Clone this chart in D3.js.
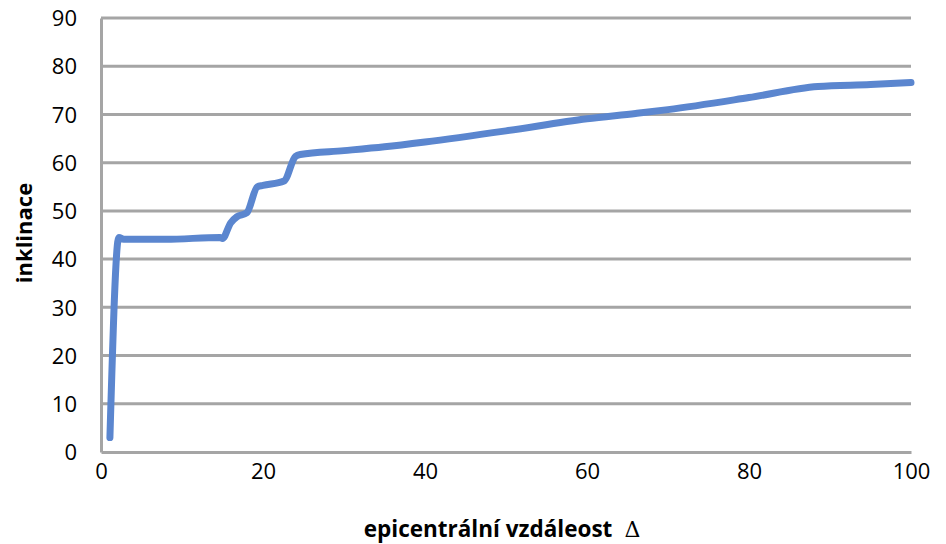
<!DOCTYPE html>
<html>
<head>
<meta charset="utf-8">
<script src="https://cdn.jsdelivr.net/npm/d3@7"></script>
<style>
  html, body { margin: 0; padding: 0; background: #fff; }
  svg { display: block; }
  text { font-family: "Open Sans", "Noto Sans", sans-serif; fill: #000; }
</style>
</head>
<body>
<svg id="chart" width="946" height="544"></svg>
<script>
// ---- data ----
const distance = [1.1, 2.2, 2.8, 8, 14.7, 15.0, 16.0, 16.8, 18.0, 19.3, 20.0, 22.6, 24.0, 24.6, 30, 35, 40, 50, 60, 66, 70, 80, 88.5, 95, 100];
const inclination = [3, 44.5, 44.1, 44.1, 44.5, 44.3, 47.5, 48.8, 49.6, 55.0, 55.3, 56.2, 61.3, 61.7, 62.5, 63.3, 64.3, 66.6, 69.1, 70.2, 71.0, 73.5, 75.8, 76.2, 76.6];
const xTicks = [0, 20, 40, 60, 80, 100];
const yTicks = [0, 10, 20, 30, 40, 50, 60, 70, 80, 90];
const xTitle = "epicentrální vzdáleost";
const xTitleSymbol = "\u0394";
const yTitle = "inklinace";

// ---- layout ----
const svg = d3.select("#chart");
const mLeft = 101, mRight = 911, mTop = 18, mBottom = 452;
const x = d3.scaleLinear().domain([0, 100]).range([mLeft, mRight]);
const y = d3.scaleLinear().domain([0, 90]).range([mBottom, mTop]);
const grey = "#a5a5a5";

// gridlines
svg.append("g").selectAll("line").data(yTicks.filter(d => d > 0)).join("line")
  .attr("x1", mLeft).attr("x2", mRight)
  .attr("y1", d => y(d)).attr("y2", d => y(d))
  .attr("stroke", grey).attr("stroke-width", 3);

// y axis
const yAxis = svg.append("g").attr("transform", `translate(${mLeft},0)`)
  .call(d3.axisLeft(y).tickValues(yTicks).tickSize(0).tickPadding(24));
yAxis.select(".domain").attr("stroke", grey).attr("stroke-width", 3);
yAxis.selectAll("text").style("font-size", "22px").attr("dy", "0.35em");

// x axis
const xAxis = svg.append("g").attr("transform", `translate(0,${mBottom})`)
  .call(d3.axisBottom(x).tickValues(xTicks).tickSize(0).tickPadding(27));
xAxis.select(".domain").attr("stroke", grey).attr("stroke-width", 3);
xAxis.selectAll("text").style("font-size", "22px").attr("dy", "0");

// line
const line = d3.line().x((d, i) => x(distance[i])).y(d => y(d)).curve(d3.curveMonotoneX);
svg.append("path").datum(inclination)
  .attr("d", line)
  .attr("fill", "none")
  .attr("stroke", "#5b86cf")
  .attr("stroke-width", 7)
  .attr("stroke-linejoin", "round")
  .attr("stroke-linecap", "round");

// titles
const xt = svg.append("text").attr("x", 502).attr("y", 537)
  .attr("text-anchor", "middle").style("font-size", "22.5px").style("font-weight", "bold");
xt.append("tspan").text(xTitle);
xt.append("tspan").attr("dx", 12)
  .style("font-family", "'DejaVu Serif', 'Liberation Serif', serif")
  .style("font-weight", "normal").style("font-size", "22px")
  .text(xTitleSymbol);
svg.append("text").attr("transform", "translate(32,233) rotate(-90)")
  .attr("text-anchor", "middle").style("font-size", "22px").style("font-weight", "bold")
  .text(yTitle);
</script>
</body>
</html>
